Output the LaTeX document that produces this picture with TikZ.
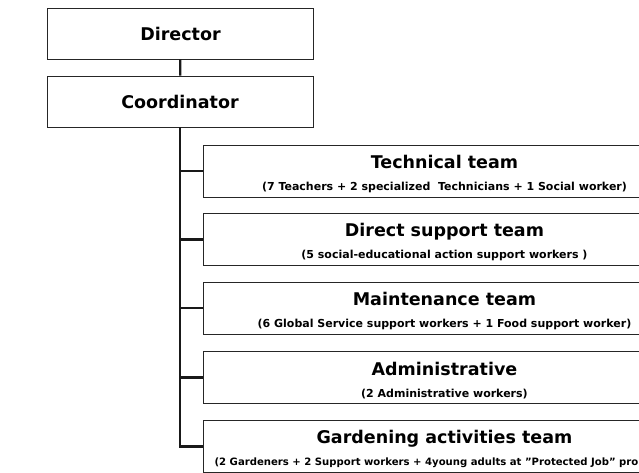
\documentclass[tikz,border=0pt]{standalone}
\usepackage{fontspec}
\setmainfont{DejaVu Sans}
\usetikzlibrary{shadows}

\tikzset{
  box/.style={draw=black!85, line width=0.9pt, fill=white, inner sep=0pt,
    drop shadow={shadow xshift=0.7pt, shadow yshift=-0.7pt, opacity=1, fill=black!85}},
  headbox/.style={box, minimum width=266pt, minimum height=51pt,
    font=\bfseries\fontsize{17.5}{20}\selectfont},
  teambox/.style={box, minimum width=482pt, minimum height=52pt, align=center},
  link/.style={line width=2.2pt, black!90}
}
\newcommand{\teamtitle}{\bfseries\fontsize{17.5}{20}\selectfont\rule{0pt}{19pt}}
\newcommand{\teamsub}{\bfseries\fontsize{11}{13}\selectfont}

\begin{document}
\begin{tikzpicture}[x=1pt, y=-1pt]
  \useasboundingbox (0,0) rectangle (639,473);
  \clip (0,0) rectangle (639,473);

  % top of the chart
  \node[headbox] (dir) at (180.5,33.5) {Director};
  \node[headbox] (coord) at (180,101.5) {Coordinator};
  \draw[link] (dir) -- (coord);

  % the teams, hanging off one trunk
  \foreach \n/\y/\ttl/\sub in {
      tech/171/Technical team/(7 Teachers + 2 specialized \ Technicians + 1 Social worker),
      direct/239.5/Direct support team/(5 social-educational action support workers ),
      maint/308/Maintenance team/(6 Global Service support workers + 1 Food support worker),
      admin/377.5/Administrative/(2 Administrative workers),
      garden/446.5/Gardening activities team/\fontsize{10.1}{12}\selectfont(2 Gardeners + 2 Support workers + 4young adults at "Protected Job" pro\hspace*{36pt}} {
    \draw[link] (coord.south) |- (203,\y) coordinate (\n-in);
    \node[teambox, anchor=west] (\n) at (\n-in) {{\teamtitle \ttl}\\[10pt]{\teamsub \sub}};
  }
\end{tikzpicture}
\end{document}
